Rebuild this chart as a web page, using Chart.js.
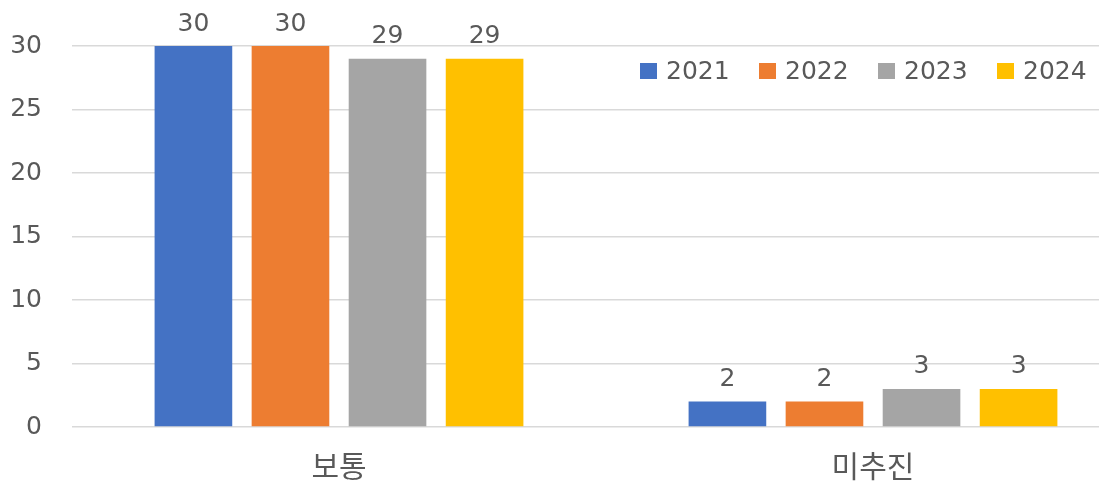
<!DOCTYPE html>
<html>
<head>
<meta charset="utf-8">
<script src="https://cdn.jsdelivr.net/npm/chart.js@4/dist/chart.umd.min.js"></script>
<style>
    html, body { margin: 0; padding: 0; background: #fff; overflow: hidden; }
    #chart { display: block; }
</style>
</head>
<body>
<canvas id="chart" width="1140" height="484"></canvas>
<script>
const categories = ["보통", "미추진"];
const years = ["2021", "2022", "2023", "2024"];
const values2021 = [30, 2];
const values2022 = [30, 2];
const values2023 = [29, 3];
const values2024 = [29, 3];
const yTicks = [0, 5, 10, 15, 20, 25, 30];

const colors = ["#4472C4", "#ED7D31", "#A5A5A5", "#FFC000"];
const textColor = "#595959";
const fontFamily = "'DejaVu Sans', 'Noto Sans CJK KR', sans-serif";

const seriesValues = [values2021, values2022, values2023, values2024];

// value labels above each bar
const barLabels = {
    id: "barLabels",
    afterDatasetsDraw(chart) {
        const ctx = chart.ctx;
        ctx.save();
        ctx.font = "25px " + fontFamily;
        ctx.fillStyle = textColor;
        ctx.textAlign = "center";
        ctx.textBaseline = "middle";
        chart.data.datasets.forEach((ds, i) => {
            chart.getDatasetMeta(i).data.forEach((bar, j) => {
                ctx.fillText(String(ds.data[j]), bar.x, bar.y - 22);
            });
        });
        ctx.restore();
    }
};

// legend drawn inside the plot, top right
const insideLegend = {
    id: "insideLegend",
    afterDraw(chart) {
        const ctx = chart.ctx;
        ctx.save();
        ctx.font = "25px " + fontFamily;
        ctx.textBaseline = "middle";
        ctx.textAlign = "left";
        let x = 640;
        const y = 71;
        chart.data.datasets.forEach(ds => {
            ctx.fillStyle = ds.backgroundColor;
            ctx.fillRect(x, y - 8, 17, 16);
            ctx.fillStyle = textColor;
            ctx.fillText(ds.label, x + 26, y + 1);
            x += 119;
        });
        ctx.restore();
    }
};

const ctx = document.getElementById("chart").getContext("2d");
new Chart(ctx, {
    type: "bar",
    data: {
        labels: categories,
        datasets: years.map((year, i) => ({
            label: year,
            data: seriesValues[i],
            backgroundColor: colors[i],
            categoryPercentage: 0.727,
            barPercentage: 0.8
        }))
    },
    options: {
        responsive: false,
        animation: false,
        layout: {
            padding: { top: 46, left: 0, right: 0, bottom: 0 }
        },
        plugins: {
            legend: { display: false },
            tooltip: { enabled: false }
        },
        scales: {
            x: {
                grid: { display: false, drawTicks: false },
                border: { display: false },
                ticks: {
                    color: textColor,
                    font: { family: fontFamily, size: 30 },
                    padding: 24
                },
                afterFit(scale) { scale.height = 57; }
            },
            y: {
                min: 0,
                max: 30,
                afterBuildTicks(scale) {
                    scale.ticks = yTicks.map(v => ({ value: v }));
                },
                grid: { color: "#d9d9d9", lineWidth: 1.5, drawTicks: false },
                border: { display: false },
                ticks: {
                    color: textColor,
                    font: { family: fontFamily, size: 25 },
                    padding: 30
                },
                afterFit(scale) { scale.width = 72; }
            }
        }
    },
    plugins: [barLabels, insideLegend]
});
</script>
</body>
</html>
